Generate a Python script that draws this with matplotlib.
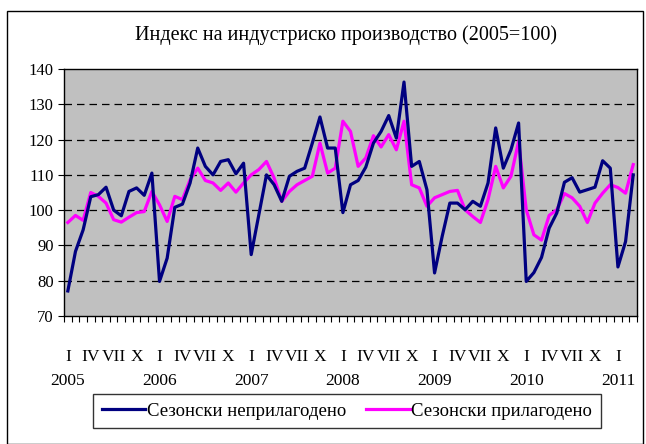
#!/usr/bin/env python3
"""Индекс на индустриско производство (2005=100), месечни податоци 2005-2011."""

from __future__ import annotations

import matplotlib

matplotlib.use("Agg")
import matplotlib.pyplot as plt
import numpy as np
from matplotlib.patches import Rectangle


TITLE = "Индекс на индустриско производство (2005=100)"
LABEL_NSA = "Сезонски неприлагодено"
LABEL_SA = "Сезонски прилагодено"

YEARS = ["2005", "2006", "2007", "2008", "2009", "2010", "2011"]
MONTH_LABELS = ["I", "IV", "VII", "X"]

# јан 2005 - мар 2011, сезонски неприлагодено
NSA = [
    77.1, 88.3, 94.4, 103.8, 104.4, 106.5, 100.0, 98.4, 105.3, 106.3, 104.2, 110.5,
    79.8, 86.4, 100.8, 101.7, 107.7, 117.6, 112.4, 110.0, 113.8, 114.3, 110.3, 113.3,
    87.4, 98.7, 110.0, 107.2, 102.5, 109.6, 111.0, 111.9, 119.0, 126.4, 117.6, 117.6,
    99.3, 107.2, 108.4, 112.2, 119.0, 122.3, 126.8, 120.4, 136.3, 112.4, 113.8, 105.8,
    82.2, 92.6, 102.0, 102.0, 100.1, 102.5, 101.1, 107.7, 123.3, 111.9, 117.1, 124.7,
    79.8, 82.3, 86.6, 94.9, 99.2, 107.9, 109.2, 105.1, 105.8, 106.5, 114.0, 111.9,
    83.9, 91.1, 110.0,
]

# јан 2005 - мар 2011, сезонски прилагодено
SA = [
    96.5, 98.5, 97.1, 105.0, 103.9, 102.0, 97.3, 96.6, 98.0, 99.3, 99.6, 105.3,
    101.5, 96.8, 103.9, 103.0, 108.6, 111.9, 108.4, 107.7, 105.6, 107.7, 105.1, 107.7,
    110.0, 111.5, 113.8, 109.1, 102.5, 105.3, 107.2, 108.4, 109.6, 119.0, 110.5, 111.9,
    125.2, 122.3, 112.4, 114.8, 121.1, 117.9, 121.4, 117.1, 125.2, 107.2, 106.3, 101.1,
    103.5, 104.4, 105.3, 105.6, 100.1, 98.2, 96.5, 103.0, 112.4, 106.3, 109.6, 119.5,
    100.1, 93.0, 91.5, 98.5, 100.1, 104.7, 103.5, 101.1, 96.5, 102.0, 104.8, 107.2,
    106.4, 104.8, 112.9,
]

NAVY = "#000080"
MAGENTA = "#FF00FF"
PLOT_BG = "#C0C0C0"
FONT = ["Liberation Serif", "DejaVu Serif"]


def create_plot(output: str = "out.png") -> None:
    plt.rcParams["font.family"] = FONT
    x = np.arange(len(NSA))

    fig = plt.figure(figsize=(6.46, 4.44), dpi=100)
    ax = fig.add_axes([0.0991, 0.2883, 0.8870, 0.5563])
    ax.set_facecolor(PLOT_BG)

    # надворешна рамка на графикот
    fig.patches.append(
        Rectangle((7 / 646, 0.0), 636 / 646, 1 - 11 / 444,
                  transform=fig.transFigure, fill=False,
                  edgecolor="black", linewidth=1.0)
    )

    for val in range(80, 140, 10):
        ax.axhline(val, color="black", linewidth=0.9, dashes=(6, 4), zorder=1)

    ax.plot(x, NSA, color=NAVY, linewidth=2.3, label=LABEL_NSA, zorder=3)
    ax.plot(x, SA, color=MAGENTA, linewidth=2.3, label=LABEL_SA, zorder=2)

    ax.set_xlim(-0.5, len(NSA) - 0.5)
    ax.set_ylim(70, 140)
    ax.set_yticks(range(70, 141, 10))
    ax.tick_params(axis="y", labelsize=12, direction="out", length=4, width=0.8)

    # месеци I, IV, VII, X
    month_pos = [m for m in x if m % 3 == 0]
    month_lab = [MONTH_LABELS[(m % 12) // 3] for m in month_pos]
    ax.set_xticks(month_pos)
    ax.set_xticklabels(month_lab, fontsize=12.5)
    ax.tick_params(axis="x", length=0, pad=24)
    ax.set_xticks(np.arange(-0.5, len(NSA), 1), minor=True)
    ax.tick_params(axis="x", which="minor", direction="out", length=4, width=0.8)

    for i, year in enumerate(YEARS):
        xpos = min(i * 12, len(NSA) - 2.7)
        ax.text(xpos, -0.263, year, transform=ax.get_xaxis_transform(),
                ha="center", va="center", fontsize=12.5)

    for spine in ax.spines.values():
        spine.set_linewidth(1.0)
        spine.set_color("black")

    fig.text(0.535, 0.921, TITLE, ha="center", va="center", fontsize=14.5)

    leg = ax.legend(loc="center", bbox_to_anchor=(0.537, 1 - 411 / 444),
                    bbox_transform=fig.transFigure, ncol=2, fontsize=13.5,
                    frameon=True, fancybox=False, edgecolor="black",
                    handlelength=2.3, columnspacing=1.1, handletextpad=0.1,
                    borderpad=0.45)
    leg.get_frame().set_linewidth(1.0)

    fig.savefig(output, dpi=100)
    plt.close(fig)


if __name__ == "__main__":
    create_plot()
